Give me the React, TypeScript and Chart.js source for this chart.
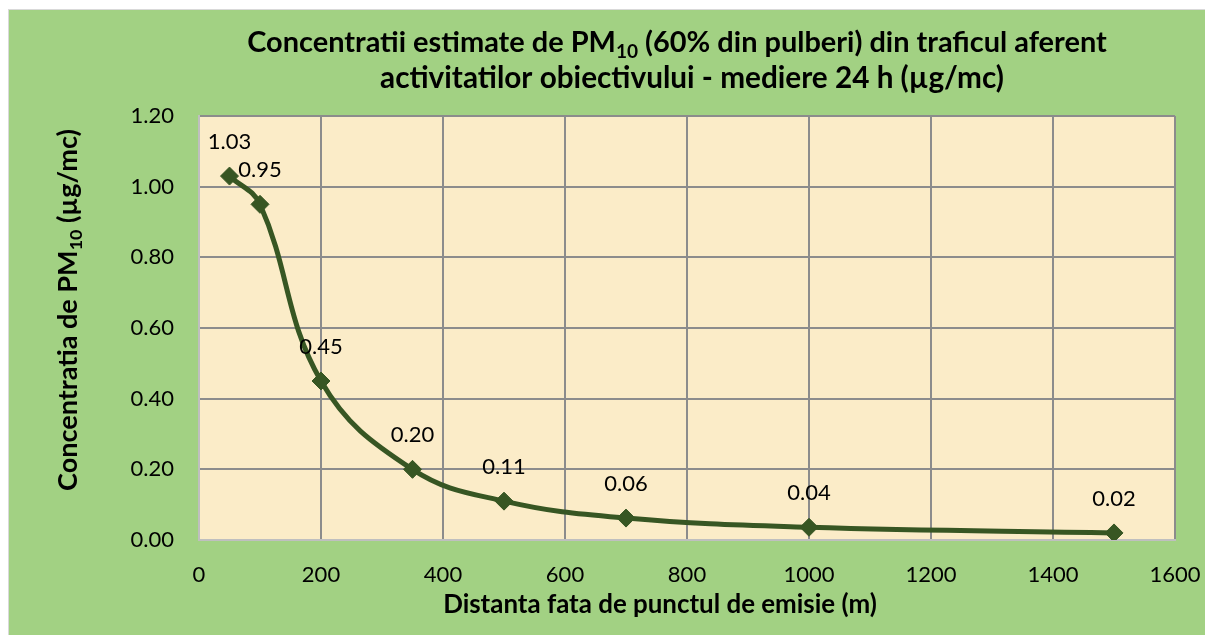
import React, { useEffect, useRef } from 'react';
import { Chart, registerables } from 'chart.js';

Chart.register(...registerables);

// ---- Data ----
const distances = [50, 100, 200, 350, 500, 700, 1000, 1500];
const concentrations = [1.03, 0.95, 0.45, 0.2, 0.11, 0.062, 0.036, 0.02];
const xTicks = [0, 200, 400, 600, 800, 1000, 1200, 1400, 1600];
const yTicks = [0, 0.2, 0.4, 0.6, 0.8, 1.0, 1.2];

type Part = { t: string; sub?: boolean };
const titleLine1: Part[] = [
  { t: 'Concentratii estimate de PM' },
  { t: '10', sub: true },
  { t: ' (60% din pulberi) din traficul aferent' },
];
const titleLine2: Part[] = [{ t: 'activitatilor obiectivului - mediere 24 h (µg/mc)' }];
const yTitle: Part[] = [
  { t: 'Concentratia de PM' },
  { t: '10', sub: true },
  { t: ' (µg/mc)' },
];
const xTitle: Part[] = [{ t: 'Distanta fata de punctul de emisie (m)' }];

const FONT = 'Lato, "Open Sans", sans-serif';
const GREEN_BG = '#A2D183';
const PLOT_BG = '#FBECC8';
const LINE = '#375623';

function partsWidth(ctx: CanvasRenderingContext2D, parts: Part[], size: number) {
  let w = 0;
  for (const p of parts) {
    ctx.font = `bold ${p.sub ? size * 0.66 : size}px ${FONT}`;
    w += ctx.measureText(p.t).width;
  }
  return w;
}

function drawParts(
  ctx: CanvasRenderingContext2D,
  parts: Part[],
  cx: number,
  cy: number,
  targetW: number,
  baseSize: number
) {
  const w0 = partsWidth(ctx, parts, baseSize);
  const size = baseSize * (targetW / w0);
  const total = partsWidth(ctx, parts, size);
  let x = cx - total / 2;
  ctx.textBaseline = 'middle';
  ctx.textAlign = 'left';
  ctx.fillStyle = '#000';
  for (const p of parts) {
    const s = p.sub ? size * 0.66 : size;
    ctx.font = `bold ${s}px ${FONT}`;
    ctx.fillText(p.t, x, p.sub ? cy + size * 0.32 : cy);
    x += ctx.measureText(p.t).width;
  }
}

const decorPlugin = {
  id: 'decor',
  beforeDraw(chart: any) {
    const { ctx, chartArea, width, height } = chart;
    ctx.save();
    ctx.fillStyle = GREEN_BG;
    ctx.fillRect(0, 0, width, height);
    ctx.fillStyle = '#D9D9D9';
    ctx.fillRect(0, 0, width, 1);
    ctx.fillRect(0, 0, 1, height);
    ctx.fillStyle = PLOT_BG;
    ctx.fillRect(chartArea.left, chartArea.top, chartArea.right - chartArea.left, chartArea.bottom - chartArea.top);
    ctx.restore();
  },
  afterDraw(chart: any) {
    const { ctx } = chart;
    ctx.save();
    drawParts(ctx, titleLine1, 669, 34, 860, 22);
    drawParts(ctx, titleLine2, 684, 69, 624, 22);
    drawParts(ctx, xTitle, 652, 596, 434, 20);
    ctx.translate(60, 301);
    ctx.rotate(-Math.PI / 2);
    drawParts(ctx, yTitle, 0, 0, 362, 20);
    ctx.restore();
  },
};

const labelPlugin = {
  id: 'pointLabels',
  afterDatasetsDraw(chart: any) {
    const { ctx } = chart;
    const meta = chart.getDatasetMeta(0);
    ctx.save();
    ctx.font = `22px ${FONT}`;
    ctx.fillStyle = '#000';
    ctx.textAlign = 'center';
    ctx.textBaseline = 'middle';
    meta.data.forEach((el: any, i: number) => {
      ctx.fillText(concentrations[i].toFixed(2), el.x, el.y - 34);
    });
    ctx.restore();
  },
};

export default function App() {
  const ref = useRef<HTMLCanvasElement | null>(null);
  useEffect(() => {
    if (!ref.current) return;
    const chart = new Chart(ref.current, {
      type: 'line',
      data: {
        datasets: [
          {
            data: distances.map((d, i) => ({ x: d, y: concentrations[i] })),
            borderColor: LINE,
            backgroundColor: LINE,
            borderWidth: 5,
            tension: 0.4,
            pointStyle: 'rectRot',
            pointRadius: 9,
            pointBorderWidth: 1,
            pointBorderColor: LINE,
            pointBackgroundColor: LINE,
            fill: false,
          },
        ],
      },
      options: {
        animation: false,
        responsive: false,
        maintainAspectRatio: false,
        layout: { padding: { top: 107, right: 30, left: 0, bottom: 0 } },
        plugins: { legend: { display: false }, title: { display: false }, tooltip: { enabled: false } },
        scales: {
          x: {
            type: 'linear',
            min: 0,
            max: 1600,
            afterFit: (s: any) => {
              s.height = 95;
              s.paddingLeft = 0;
              s.paddingRight = 0;
            },
            afterBuildTicks: (s: any) => {
              s.ticks = xTicks.map((v) => ({ value: v }));
            },
            ticks: {
              color: '#000',
              font: { family: FONT, size: 22 },
              padding: 22,
              maxRotation: 0,
              autoSkip: false,
              callback: (v: any) => String(v),
            },
            grid: { color: '#8C8C8C', lineWidth: 2, drawTicks: false },
            border: { display: true, color: '#BFBFBF', width: 2 },
          },
          y: {
            type: 'linear',
            min: 0,
            max: 1.2,
            afterFit: (s: any) => {
              s.width = 191;
              s.paddingTop = 0;
              s.paddingBottom = 0;
            },
            afterBuildTicks: (s: any) => {
              s.ticks = yTicks.map((v) => ({ value: v }));
            },
            ticks: {
              color: '#000',
              font: { family: FONT, size: 22 },
              padding: 25,
              autoSkip: false,
              callback: (v: any) => Number(v).toFixed(2),
            },
            grid: { color: '#8C8C8C', lineWidth: 2, drawTicks: false },
            border: { display: true, color: '#BFBFBF', width: 2 },
          },
        },
      },
      plugins: [decorPlugin, labelPlugin],
    });
    return () => chart.destroy();
  }, []);
  return (
    <div style={{ position: 'fixed', left: 8, top: 9, width: 1197, height: 626, overflow: 'hidden' }}>
      <canvas ref={ref} width={1197} height={626} style={{ display: 'block', width: 1197, height: 626 }} />
    </div>
  );
}
